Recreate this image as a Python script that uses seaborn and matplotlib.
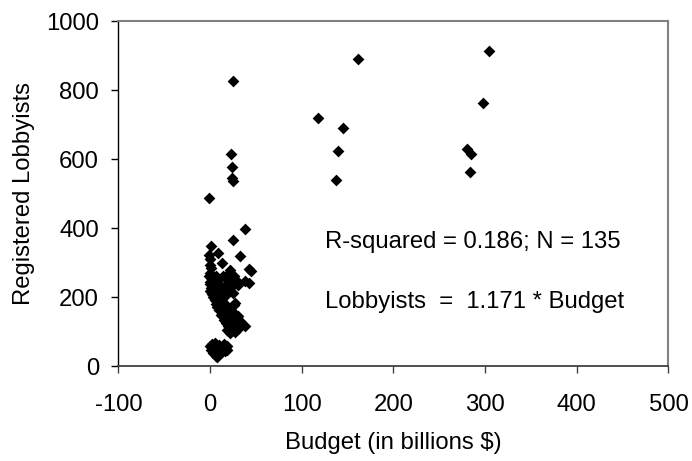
import matplotlib
matplotlib.use("Agg")
import matplotlib.pyplot as plt
import pandas as pd
import seaborn as sns

sns.set_style("ticks")
plt.rcParams["font.family"] = ["Liberation Sans", "DejaVu Sans"]
plt.rcParams["axes.unicode_minus"] = False
plt.rcParams["text.color"] = "black"
plt.rcParams["axes.labelcolor"] = "black"
plt.rcParams["xtick.labelcolor"] = "black"
plt.rcParams["ytick.labelcolor"] = "black"

# outlying agencies
budget_out = [161, 304, 118, 145, 140, 137, 298, 280, 285, 283,
              25, 23, 24, 24, 25, -1, 38, 25, 1]
lobby_out = [891, 913, 720, 690, 625, 540, 764, 629, 615, 563,
             826, 614, 577, 545, 536, 487, 399, 365, 350]

# dense cluster, upper part
budget_mid = [9, 33, -1, 13, 42, 45, 22, 0, 0, 1, 0, -1, 1, 0, 0, 1, 0, 2,
              38, 43, 20, 20, 21, 19, 22, 6, 8, 10, 5, 12, 14, 26, 28, 24,
              15, 25, 8, 3, 16, 31]
lobby_mid = [330, 319, 324, 300, 282, 276, 280, 310, 295, 285, 272, 262,
             255, 246, 238, 228, 218, 210, 247, 242, 268, 258, 248, 238,
             228, 262, 250, 240, 232, 226, 262, 262, 250, 232, 215, 214,
             206, 200, 204, 236]

# dense cluster, lower part
budget_low = [27, 26, 5, 8, 10, 12, 14, 8, 10, 12, 15, 18, 16, 14, 18, 20,
              22, 24, 26, 28, 30, 20, 22, 24, 26, 28, 30, 32, 18, 20, 16, 13,
              22, 24, 10, 6, 17, 20, 23, 25, 27, 38, 29, 31, 33, 12, 15, 19,
              22, 34]
lobby_low = [184, 178, 192, 188, 182, 176, 170, 172, 165, 160, 158, 155,
             150, 145, 140, 136, 130, 125, 120, 115, 110, 145, 150, 140,
             135, 130, 125, 128, 165, 160, 180, 190, 170, 160, 195, 180,
             125, 118, 112, 105, 100, 118, 140, 145, 133, 150, 135, 105,
             98, 120]

# small agencies near the bottom
budget_small = [0, 2, 4, 6, 8, 10, 3, 5, 7, 12, 14, 16, 18, 15, 10, 5, 1,
                9, 13, 17, 11, 6, 2, 8, 19, 4]
lobby_small = [60, 55, 50, 45, 40, 35, 40, 35, 30, 55, 50, 45, 60, 65, 62,
               68, 48, 50, 42, 52, 45, 58, 64, 28, 48, 62]

df = pd.DataFrame({
    "budget": budget_out + budget_mid + budget_low + budget_small,
    "lobbyists": lobby_out + lobby_mid + lobby_low + lobby_small,
})

fs = 17.2

fig = plt.figure(figsize=(6.92, 4.61), dpi=100)
ax = fig.add_axes([0.171, 0.205, 0.795, 0.749])

sns.scatterplot(data=df, x="budget", y="lobbyists", marker="D", s=36,
                color="black", linewidth=0, ax=ax)

ax.set_xlim(-100, 500)
ax.set_ylim(0, 1000)
ax.set_xticks(range(-100, 501, 100))
ax.set_yticks(range(0, 1001, 200))

for side in ["top", "right"]:
    ax.spines[side].set_color("#808080")
    ax.spines[side].set_linewidth(1.5)
ax.spines["left"].set_color("black")
ax.spines["left"].set_linewidth(1.0)
ax.spines["bottom"].set_color("#404040")
ax.spines["bottom"].set_linewidth(1.3)

ax.tick_params(axis="x", length=5, width=1, pad=15, labelsize=fs,
               color="#404040")
ax.tick_params(axis="y", length=5, width=1, pad=9, labelsize=fs,
               color="black")

ax.set_xlabel("Budget (in billions $)", fontsize=fs, labelpad=11.5)
ax.set_ylabel("Registered Lobbyists", fontsize=fs, labelpad=8)

ax.text(125.5, 361, "R-squared = 0.186; N = 135", fontsize=fs,
        va="center", ha="left")
ax.text(125.5, 188, "Lobbyists  =  1.171 * Budget", fontsize=fs,
        va="center", ha="left")

fig.savefig("out.png", dpi=100)
